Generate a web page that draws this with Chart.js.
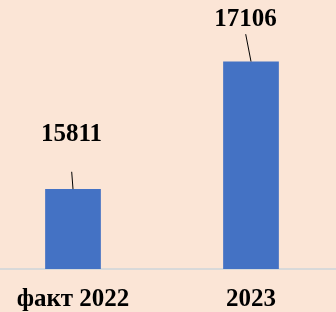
<!DOCTYPE html>
<html>
<head>
<meta charset="utf-8">
<script src="https://cdn.jsdelivr.net/npm/chart.js@4"></script>
<style>
  html, body { margin: 0; padding: 0; background: #fbe5d6; overflow: hidden; }
  #wrap { position: absolute; left: -16px; top: 0; width: 356px; height: 331px; }
</style>
</head>
<body>
<div id="wrap"><canvas id="myChart"></canvas></div>
<script>
const categories = ["факт 2022", "2023"];
const values = [15811, 17106];
const yMin = 15000;
const yMax = 17730;

// label placement relative to the top of each bar (px)
const labelDx = [-1.5, -5.5];
const labelDy = [-55, -41.5];
const leaderDx = [-1.3, -5.3];
const leaderDy = [-17.3, -27.3];

const serif = "'Liberation Serif', 'Times New Roman', serif";

const valueLabels = {
  id: "valueLabels",
  afterDatasetsDraw(chart) {
    const ctx = chart.ctx;
    const meta = chart.getDatasetMeta(0);
    ctx.save();
    meta.data.forEach((bar, i) => {
      // leader line
      ctx.strokeStyle = "#000";
      ctx.lineWidth = 1;
      ctx.beginPath();
      ctx.moveTo(bar.x + leaderDx[i], bar.y + leaderDy[i]);
      ctx.lineTo(bar.x, bar.y);
      ctx.stroke();
      // value text
      ctx.fillStyle = "#000";
      ctx.font = "bold 25px " + serif;
      ctx.textAlign = "center";
      ctx.textBaseline = "middle";
      ctx.fillText(String(values[i]), bar.x + labelDx[i], bar.y + labelDy[i]);
    });
    ctx.restore();
  }
};

const ctx = document.getElementById("myChart").getContext("2d");
new Chart(ctx, {
  type: "bar",
  data: {
    labels: categories,
    datasets: [{
      data: values,
      backgroundColor: "#4472c4",
      borderWidth: 0,
      categoryPercentage: 1,
      barPercentage: 0.313
    }]
  },
  options: {
    responsive: true,
    maintainAspectRatio: false,
    animation: false,
    layout: { padding: { top: 0, left: 0, right: 0, bottom: 1 } },
    plugins: {
      legend: { display: false },
      tooltip: { enabled: false }
    },
    scales: {
      x: {
        grid: { display: false, drawTicks: false },
        border: { display: true, color: "#d9d9d9", width: 2 },
        ticks: {
          color: "#000",
          padding: 18,
          font: { family: serif, size: 25, weight: "bold", lineHeight: 1 }
        }
      },
      y: {
        display: false,
        min: yMin,
        max: yMax
      }
    }
  },
  plugins: [valueLabels]
});
</script>
</body>
</html>
